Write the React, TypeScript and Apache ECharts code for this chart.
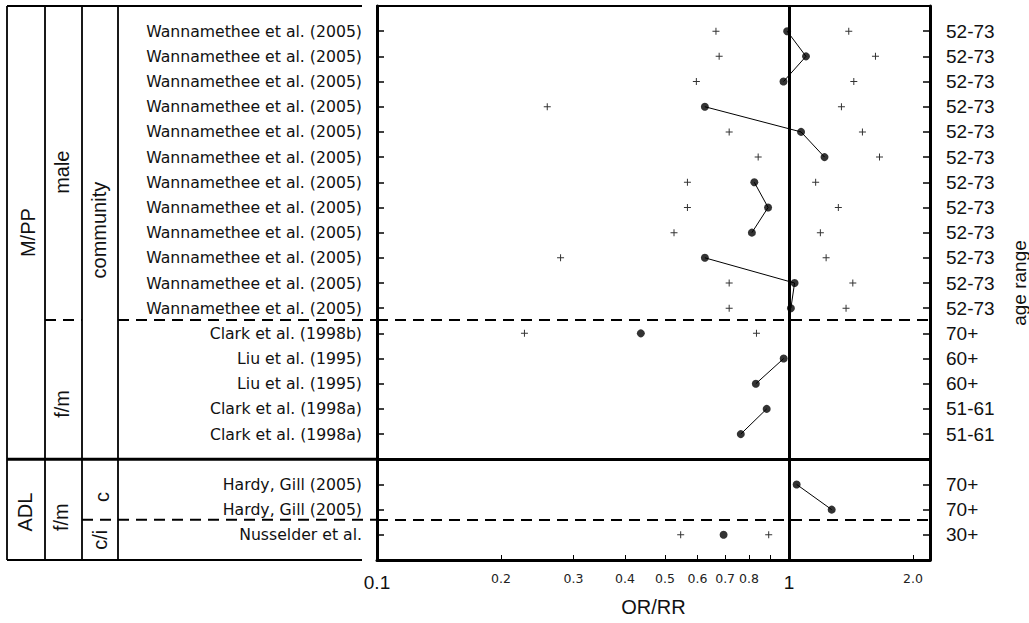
import React, { useEffect, useRef } from "react";
import * as echarts from "echarts";

// ---- data (rows top to bottom; row 17 is an empty spacer) ----
const studies = [
  "Wannamethee et al. (2005)", "Wannamethee et al. (2005)", "Wannamethee et al. (2005)",
  "Wannamethee et al. (2005)", "Wannamethee et al. (2005)", "Wannamethee et al. (2005)",
  "Wannamethee et al. (2005)", "Wannamethee et al. (2005)", "Wannamethee et al. (2005)",
  "Wannamethee et al. (2005)", "Wannamethee et al. (2005)", "Wannamethee et al. (2005)",
  "Clark et al. (1998b)", "Liu et al. (1995)", "Liu et al. (1995)",
  "Clark et al. (1998a)", "Clark et al. (1998a)", "",
  "Hardy, Gill (2005)", "Hardy, Gill (2005)", "Nusselder et al.",
];
const ageRanges = [
  "52-73", "52-73", "52-73", "52-73", "52-73", "52-73",
  "52-73", "52-73", "52-73", "52-73", "52-73", "52-73",
  "70+", "60+", "60+", "51-61", "51-61", "",
  "70+", "70+", "30+",
];
const estimates = [
  0.99, 1.10, 0.97, 0.625, 1.07, 1.22, 0.824, 0.89, 0.813, 0.625, 1.032, 1.011,
  0.437, 0.971, 0.831, 0.883, 0.764, null, 1.044, 1.27, 0.694,
];
const lowerCI = [
  0.665, 0.677, 0.596, 0.259, 0.716, 0.842, 0.567, 0.567, 0.526, 0.279, 0.716, 0.716,
  0.228, null, null, null, null, null, null, null, 0.546,
];
const upperCI = [
  1.397, 1.622, 1.437, 1.341, 1.508, 1.659, 1.161, 1.318, 1.192, 1.231, 1.429, 1.376,
  0.834, null, null, null, null, null, null, null, 0.893,
];
const connectedRows = [[0, 1, 2], [3, 4, 5], [6, 7, 8], [9, 10, 11], [13, 14], [15, 16], [18, 19]];
const xTickValues = [0.1, 0.2, 0.3, 0.4, 0.5, 0.6, 0.7, 0.8, 0.9, 1, 2];
const xLabelValues = [0.1, 0.2, 0.3, 0.4, 0.5, 0.6, 0.7, 0.8, 1, 2];
const xLabelTexts = ["0.1", "0.2", "0.3", "0.4", "0.5", "0.6", "0.7", "0.8", "1", "2.0"];
const bigLabels = ["0.1", "1"];
const spacerRow = 17;
const dividerRows = [11.47, 19.4];

const PLUS = "path://M3,0h1v3h3v1h-3v3h-1v-3h-3v-1h3z";
const ARIAL = "Liberation Sans, Arial, sans-serif";
const DEJAVU = "DejaVu Sans, sans-serif";
const W = 1029;
const H = 623;

function findLabel(v: number): number {
  let i = xLabelValues.findIndex((x) => Math.abs(x - v) < 1e-6);
  if (i < 0) i = xLabelValues.findIndex((x) => Math.abs(x - Math.pow(10, v)) < 1e-6);
  return i;
}

export default function App() {
  const ref = useRef<HTMLDivElement>(null);
  useEffect(() => {
    if (!ref.current) return;
    const chart = echarts.init(ref.current, undefined, { renderer: "svg", width: W, height: H });

    const estData: any[] = [];
    const ciData: any[] = [];
    estimates.forEach((v, i) => {
      if (v != null) estData.push([v, i]);
      if (lowerCI[i] != null) ciData.push([lowerCI[i], i]);
      if (upperCI[i] != null) ciData.push([upperCI[i], i]);
    });

    const lineSeries = connectedRows.map((g) => ({
      type: "line",
      data: g.map((r) => [estimates[r], r]),
      showSymbol: false,
      symbol: "none",
      lineStyle: { color: "#000", width: 1 },
      silent: true,
      z: 2,
    }));

    const yBase = {
      type: "value",
      min: -1,
      max: 21,
      interval: 1,
      inverse: true,
      splitLine: { show: false },
      axisLine: { show: true, onZero: false, lineStyle: { color: "#000", width: 3 } },
      axisTick: { show: true, inside: true, length: 7, lineStyle: { color: "#000", width: 1.5 } },
    };

    chart.setOption({
      animation: false,
      backgroundColor: "#fff",
      grid: {
        left: 377,
        right: 99,
        top: 6,
        bottom: 63,
        containLabel: false,
        outerBoundsMode: "none",
      },
      xAxis: [
        {
          type: "log",
          logBase: 10,
          min: 0.1,
          max: 2.2,
          position: "bottom",
          splitLine: { show: false },
          axisLine: { show: true, onZero: false, lineStyle: { color: "#000", width: 3 } },
          axisTick: {
            show: true,
            inside: true,
            length: 5,
            customValues: xTickValues,
            lineStyle: { color: "#000", width: 1 },
          },
          axisLabel: {
            customValues: xLabelValues,
            margin: 10,
            verticalAlign: "top",
            formatter: (v: number) => {
              const i = findLabel(v);
              if (i < 0) return "";
              const t = xLabelTexts[i];
              return bigLabels.includes(t) ? `{big|${t}}` : `{small|${t}}`;
            },
            rich: {
              big: { fontFamily: ARIAL, fontSize: 19, color: "#111", lineHeight: 24 },
              small: { fontFamily: DEJAVU, fontSize: 12.5, color: "#222", lineHeight: 16 },
            },
          },
          name: "OR/RR",
          nameLocation: "middle",
          nameGap: 37,
          nameTextStyle: { fontFamily: ARIAL, fontSize: 20, color: "#111" },
        },
        {
          type: "log",
          logBase: 10,
          min: 0.1,
          max: 2.2,
          position: "top",
          splitLine: { show: false },
          axisLine: { show: true, onZero: false, lineStyle: { color: "#000", width: 2 } },
          axisTick: { show: false },
          axisLabel: { show: false },
        },
      ],
      yAxis: [
        {
          ...yBase,
          position: "left",
          axisLabel: {
            margin: 15,
            fontFamily: DEJAVU,
            fontSize: 15.7,
            color: "#111",
            formatter: (v: number) => studies[v] ?? "",
          },
        },
        {
          ...yBase,
          position: "right",
          axisLabel: {
            margin: 16,
            fontFamily: ARIAL,
            fontSize: 19,
            color: "#111",
            formatter: (v: number) => ageRanges[v] ?? "",
          },
          name: "age range",
          nameLocation: "middle",
          nameRotate: 90,
          nameGap: 80,
          nameTextStyle: { fontFamily: ARIAL, fontSize: 19, color: "#111" },
        },
      ],
      series: [
        ...lineSeries,
        {
          type: "scatter",
          name: "CI",
          data: ciData,
          symbol: PLUS,
          symbolSize: 7,
          itemStyle: { color: "#000" },
          silent: true,
          z: 3,
        },
        {
          type: "scatter",
          name: "estimate",
          data: estData,
          symbol: "circle",
          symbolSize: 8,
          itemStyle: { color: "#000" },
          silent: true,
          z: 4,
          markLine: {
            silent: true,
            symbol: ["none", "none"],
            label: { show: false },
            data: [
              { xAxis: 1, lineStyle: { color: "#000", width: 3, type: "solid" } },
              { yAxis: spacerRow, lineStyle: { color: "#000", width: 3, type: "solid" } },
              ...dividerRows.map((r) => ({
                yAxis: r,
                lineStyle: { color: "#000", width: 2, type: [11, 7] },
              })),
            ],
          },
        },
      ],
    });

    // left-hand classification table, positioned from the y axis scale
    const py = (v: number) => chart.convertToPixel({ yAxisIndex: 0 }, v) as number;
    const plotLeft = chart.convertToPixel({ xAxisIndex: 0 }, 0.1) as number;
    const colX = [7, 45, 82, 118];
    const tableRight = 362;
    const top = py(-1);
    const bottom = py(21);
    const stroke = { stroke: "#000", lineWidth: 1.8 };
    const dash = { stroke: "#000", lineWidth: 2, lineDash: [11, 7] };
    const hline = (x1: number, x2: number, y: number, style: any) => ({
      type: "line",
      shape: { x1, y1: y, x2, y2: y },
      style,
      silent: true,
    });
    const vtext = (text: string, x: number, row: number) => ({
      type: "text",
      x,
      y: py(row),
      rotation: Math.PI / 2,
      silent: true,
      style: {
        text,
        fontFamily: ARIAL,
        fontSize: 20,
        fill: "#111",
        align: "center",
        verticalAlign: "middle",
      },
    });
    const graphic: any[] = [
      ...colX.map((x) => ({
        type: "line",
        shape: { x1: x, y1: top, x2: x, y2: bottom },
        style: stroke,
        silent: true,
      })),
      hline(colX[0], tableRight, top, { stroke: "#000", lineWidth: 2 }),
      hline(colX[0], tableRight, bottom, { stroke: "#000", lineWidth: 2 }),
      hline(colX[0], plotLeft, py(spacerRow), { stroke: "#000", lineWidth: 3 }),
      hline(colX[1], colX[2], py(dividerRows[0]), dash),
      hline(colX[3], plotLeft, py(dividerRows[0]), dash),
      hline(colX[2], plotLeft, py(dividerRows[1]), dash),
      vtext("M/PP", 28, 8),
      vtext("male", 62, 5.6),
      vtext("community", 99, 7.9),
      vtext("f/m", 62, 14.8),
      vtext("ADL", 25, 19.1),
      vtext("f/m", 61, 19.3),
      vtext("c", 102, 18.5),
      vtext("c/i", 100, 20.2),
    ];
    chart.setOption({ graphic });

    return () => chart.dispose();
  }, []);

  return (
    <div
      ref={ref}
      style={{ position: "fixed", left: 0, top: 0, width: W, height: H, background: "#fff" }}
    />
  );
}
